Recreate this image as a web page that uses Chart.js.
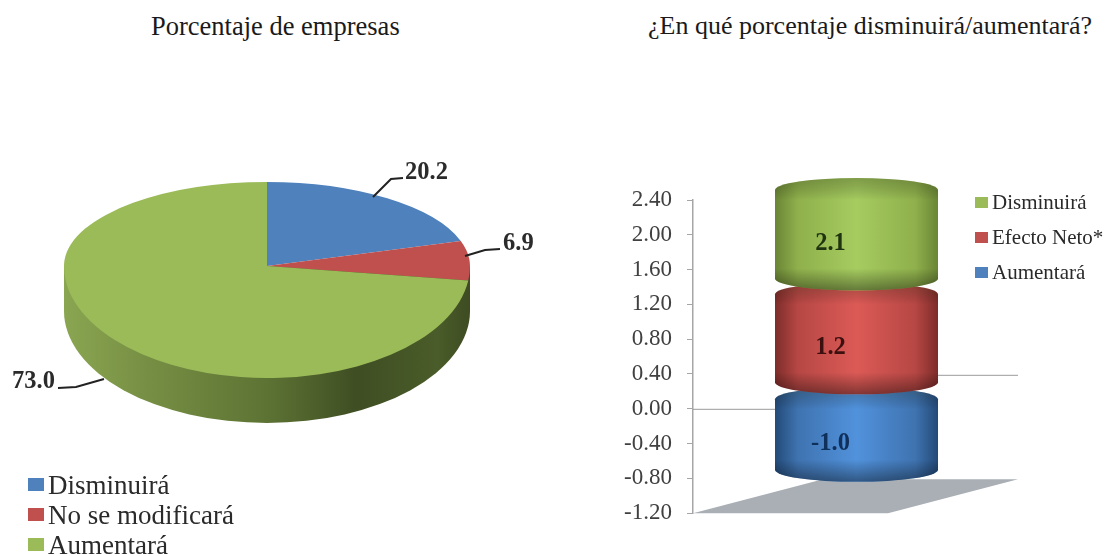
<!DOCTYPE html>
<html>
<head>
<meta charset="utf-8">
<script src="https://cdn.jsdelivr.net/npm/chart.js@4"></script>
<style>
  html, body { margin: 0; padding: 0; background: #fff; }
  body { position: relative; width: 1107px; height: 556px; overflow: hidden; font-family: "Liberation Serif", serif; color: #1a1a1a; }
  canvas { position: absolute; }
  .title { position: absolute; top: 11px; white-space: nowrap; }
  .legend { position: absolute; white-space: nowrap; color: #2a2a2a; }
  .legend i { position: absolute; }
</style>
</head>
<body>
<div class="title" id="titleLeft" style="left:151px;font-size:26.5px"></div>
<div class="title" id="titleRight" style="left:648px;font-size:26px"></div>
<canvas id="pieChart" width="534" height="532" style="left:0;top:0"></canvas>
<canvas id="barChart" width="507" height="372" style="left:600px;top:170px"></canvas>
<script>
const leftTitle = "Porcentaje de empresas";
const rightTitle = "¿En qué porcentaje disminuirá/aumentará?";

const pieLabels = ["Disminuirá", "No se modificará", "Aumentará"];
const pieValues = [20.2, 6.9, 73.0];
const pieColors = ["#4f81bd", "#c0504d", "#9bbb59"];

const barLabels = ["Aumentará", "Efecto Neto*", "Disminuirá"];
const barValues = [-1.0, 1.2, 2.1];
const barColors = ["#4f81bd", "#c0504d", "#9bbb59"];
const tickValues = [-1.2, -0.8, -0.4, 0, 0.4, 0.8, 1.2, 1.6, 2.0, 2.4];

document.getElementById("titleLeft").textContent = leftTitle;
document.getElementById("titleRight").textContent = rightTitle;

// pie: drawn squashed, upper and lower half with a different height (fake perspective)
const pieTop = 84, pieBottom = 112, pieDepth = 45;
const pieLeaders = [
  { text: [405, 179], line: [[373, 197], [391, 179], [403, 178]] },
  { text: [503, 250], line: [[465, 256], [485, 250], [500, 249]] },
  { text: [12, 388], line: [[104, 379], [76, 387], [58, 388]] },
];

const pie3d = {
  id: "pie3d",
  beforeDatasetsDraw(chart) {
    const ctx = chart.ctx;
    const arcs = chart.getDatasetMeta(0).data;
    const { x, y, outerRadius: r } = arcs[0];

    // side wall
    const side = ctx.createLinearGradient(x - r, 0, x + r, 0);
    side.addColorStop(0, "#8aa651");
    side.addColorStop(0.2, "#778f44");
    side.addColorStop(0.5, "#5d7334");
    side.addColorStop(0.72, "#3f4e23");
    side.addColorStop(0.92, "#4a5c29");
    side.addColorStop(1, "#3e4c22");
    ctx.save();
    ctx.fillStyle = side;
    ctx.beginPath();
    ctx.moveTo(x - r, y);
    ctx.lineTo(x - r, y + pieDepth);
    ctx.ellipse(x, y + pieDepth, r, pieBottom, 0, Math.PI, 0, true);
    ctx.lineTo(x + r, y);
    ctx.closePath();
    ctx.fill();
    ctx.restore();

    // top face, the library's own arcs
    [[pieTop, y - r, r], [pieBottom, y, r]].forEach(([h, clipY, clipH]) => {
      ctx.save();
      ctx.beginPath();
      ctx.rect(0, clipY, chart.width, clipH);
      ctx.clip();
      ctx.translate(x, y);
      ctx.scale(1, h / r);
      ctx.translate(-x, -y);
      arcs.forEach((a) => a.draw(ctx));
      ctx.restore();
    });

    // value labels with leader lines
    ctx.save();
    ctx.strokeStyle = "#222";
    ctx.lineWidth = 2;
    ctx.fillStyle = "#2b2b2b";
    ctx.font = "bold 24.5px 'Liberation Serif'";
    ctx.textBaseline = "alphabetic";
    pieLeaders.forEach((l, i) => {
      ctx.beginPath();
      l.line.forEach((p, j) => (j ? ctx.lineTo(p[0], p[1]) : ctx.moveTo(p[0], p[1])));
      ctx.stroke();
      ctx.fillText(pieValues[i].toFixed(1), l.text[0], l.text[1]);
    });
    ctx.restore();
    return false;
  },
};

new Chart(document.getElementById("pieChart"), {
  type: "pie",
  data: {
    labels: pieLabels,
    datasets: [{ data: pieValues, backgroundColor: pieColors, borderWidth: 0 }],
  },
  options: {
    responsive: false,
    animation: false,
    layout: { padding: 63 },
    plugins: { legend: { display: false }, tooltip: { enabled: false } },
  },
  plugins: [pie3d],
});

// cylinders
const shiftX = 66, shiftY = -14, capRy = 12, capRise = 8, labelDx = -26;
const shades = {
  "#4f81bd": ["#234a78", "#3f73b0", "#5192dc", "#10305c"],
  "#c0504d": ["#7d2c2a", "#b64744", "#dc5a56", "#3d1010"],
  "#9bbb59": ["#6a8535", "#8fb04c", "#a6cc60", "#1f3310"],
};

function cylinderPath(ctx, l, r, t, b) {
  const cx = (l + r) / 2, rx = (r - l) / 2;
  ctx.beginPath();
  ctx.moveTo(l, t + capRy);
  ctx.ellipse(cx, t + capRy, rx, capRy, 0, Math.PI, 0);
  ctx.lineTo(r, b - capRy);
  ctx.ellipse(cx, b - capRy, rx, capRy, 0, 0, Math.PI);
  ctx.closePath();
}

const cylinders = {
  id: "cylinders",
  beforeDatasetsDraw(chart) {
    const ctx = chart.ctx;
    const area = chart.chartArea;
    const yScale = chart.scales.y;
    const depthX = 130, depthY = -34;
    const floorY = yScale.getPixelForValue(-1.2);
    const zeroY = yScale.getPixelForValue(0);

    // floor
    ctx.save();
    ctx.fillStyle = "#a9afb5";
    ctx.beginPath();
    ctx.moveTo(area.left, floorY);
    ctx.lineTo(area.right, floorY);
    ctx.lineTo(area.right + depthX, floorY + depthY);
    ctx.lineTo(area.left + depthX, floorY + depthY);
    ctx.closePath();
    ctx.fill();

    // zero wall line, behind the cylinders
    ctx.strokeStyle = "#9a9a9a";
    ctx.lineWidth = 1;
    ctx.beginPath();
    ctx.moveTo(area.left, zeroY + 0.5);
    ctx.lineTo(area.left + depthX, zeroY + 0.5);
    ctx.moveTo(area.right, zeroY + depthY + 0.5);
    ctx.lineTo(area.right + depthX, zeroY + depthY + 0.5);
    ctx.stroke();
    ctx.restore();

    const boxes = [];
    chart.data.datasets.forEach((ds, i) => {
      const bar = chart.getDatasetMeta(i).data[0];
      const w = bar.width;
      const l = bar.x - w / 2 + shiftX, r = bar.x + w / 2 + shiftX;
      const upper = Math.min(bar.y, bar.base), lower = Math.max(bar.y, bar.base);
      const t = Math.max(upper, area.top) + shiftY - capRise;
      const b = lower + shiftY;
      const [edge, mid, light, ink] = shades[ds.backgroundColor];

      ctx.save();
      const g = ctx.createLinearGradient(l, 0, r, 0);
      g.addColorStop(0, edge);
      g.addColorStop(0.14, mid);
      g.addColorStop(0.5, light);
      g.addColorStop(0.86, mid);
      g.addColorStop(1, edge);
      ctx.fillStyle = g;
      cylinderPath(ctx, l, r, t, b);
      ctx.fill();
      ctx.clip();
      // darker rim on the top and the bottom
      const v = ctx.createLinearGradient(0, t, 0, b);
      const span = b - t;
      v.addColorStop(0, "rgba(40,50,20,0.3)");
      v.addColorStop(22 / span, "rgba(0,0,0,0)");
      v.addColorStop(1 - 22 / span, "rgba(0,0,0,0)");
      v.addColorStop(1, "rgba(0,0,0,0.4)");
      ctx.fillStyle = v;
      ctx.fillRect(l, t, r - l, span);
      ctx.restore();
      boxes.push({ x: bar.x + shiftX + labelDx, y: (t + b) / 2 + 9.5, value: ds.data[0], ink });
    });

    ctx.save();
    ctx.font = "bold 24.5px 'Liberation Serif'";
    ctx.textAlign = "center";
    ctx.textBaseline = "middle";
    boxes.forEach((b) => {
      ctx.fillStyle = b.ink;
      ctx.fillText(b.value.toFixed(1), b.x, b.y);
    });
    ctx.restore();
    return false;
  },
};

new Chart(document.getElementById("barChart"), {
  type: "bar",
  data: {
    labels: ["Efecto"],
    datasets: barLabels.map((name, i) => ({
      label: name,
      data: [barValues[i]],
      backgroundColor: barColors[i],
      barThickness: 163,
    })),
  },
  options: {
    responsive: false,
    animation: false,
    layout: { padding: { left: 0, right: 219, top: 30, bottom: 16 } },
    plugins: { legend: { display: false }, tooltip: { enabled: false } },
    scales: {
      x: { stacked: true, display: false },
      y: {
        stacked: true,
        min: -1.2,
        max: 2.4,
        afterBuildTicks: (scale) => { scale.ticks = tickValues.map((v) => ({ value: v })); },
        afterFit: (scale) => { scale.width = 93; },
        border: { color: "#a6a6a6", width: 1.5 },
        grid: { drawOnChartArea: false, color: "#a6a6a6", tickLength: 6 },
        ticks: {
          padding: 15,
          color: "#404040",
          font: { family: "Liberation Serif", size: 23 },
          autoSkip: false,
          callback: (v) => v.toFixed(2),
        },
      },
    },
  },
  plugins: [cylinders],
});

// legends
function addLegend(names, colors, x, ys, box, gap, size) {
  names.forEach((name, i) => {
    const d = document.createElement("div");
    d.className = "legend";
    d.style.cssText = `left:${x + box[0] + gap}px;top:${ys[i] - size * 0.6}px;font-size:${size}px;line-height:${size * 1.2}px`;
    d.textContent = name;
    const m = document.createElement("i");
    m.style.cssText = `left:${-box[0] - gap}px;top:${size * 0.6 - box[1] / 2}px;width:${box[0]}px;height:${box[1]}px;background:${colors[i]}`;
    d.appendChild(m);
    document.body.appendChild(d);
  });
}
addLegend(pieLabels, pieColors, 28, [485, 515, 545], [16, 13], 4, 27);
addLegend(barLabels.slice().reverse(), barColors.slice().reverse(), 975, [203, 238, 273], [13, 11], 4, 21);
</script>
</body>
</html>
